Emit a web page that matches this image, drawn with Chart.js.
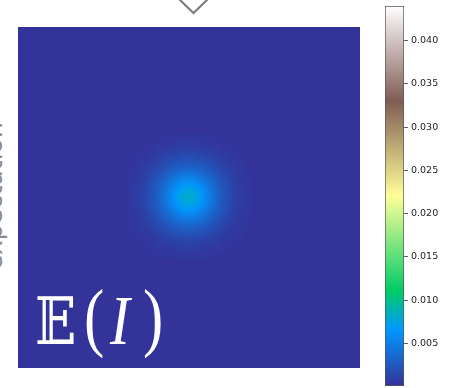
<!DOCTYPE html>
<html>
<head>
<meta charset="utf-8">
<script src="https://cdn.jsdelivr.net/npm/chart.js@4.4.0/dist/chart.umd.min.js"></script>
<style>
  html, body { margin: 0; padding: 0; background: #fff; }
  body { position: relative; width: 459px; height: 388px; overflow: hidden; }
  #heatwrap {
    position: absolute; left: 18px; top: 27px; width: 342px; height: 341px;
    overflow: hidden; background: rgb(51, 51, 153);
  }
  #heat { display: block; filter: blur(2px); }
  #cbar { position: absolute; left: 370px; top: 0; }
  #marker { position: absolute; left: 0; top: 0; }
  #ylab {
    position: absolute; left: -19.5px; top: 270px;
    transform-origin: 0 0; transform: rotate(-90deg);
    font: 25px/25px "DejaVu Sans", sans-serif; color: #8a8a8a; white-space: nowrap;
  }
  .lab { position: absolute; color: #fff; white-space: nowrap; transform-origin: 0 0; }
  #eb { left: 35px; top: 289px; font: 66px/66px "DejaVu Serif", "DejaVu Sans", serif; transform: scaleX(0.82); }
  .par { top: 278px; font: 76px/76px "Liberation Serif", serif; }
  #lp { left: 84px; transform: scaleX(0.8); }
  #ii { left: 110px; top: 286px; font: italic 70px/70px "Liberation Serif", serif; transform: scaleX(0.85); }
  #rp { left: 143px; transform: scaleX(0.8); }
</style>
</head>
<body>
<svg id="marker" width="459" height="40">
  <polyline points="178,-2 193.5,13 209,-2" fill="none" stroke="#7a7a7a" stroke-width="2"/>
</svg>
<div id="ylab">expectation</div>
<div id="heatwrap"><canvas id="heat" width="342" height="341"></canvas></div>
<canvas id="cbar" width="89" height="388"></canvas>
<span class="lab" id="eb">𝔼</span><span class="lab par" id="lp">(</span><span class="lab" id="ii">I</span><span class="lab par" id="rp">)</span>
<script>
// colour range of the shared colorbar
const vMin = 0.00007;
const vMax = 0.0440;
const cbarTicks = [0.005, 0.010, 0.015, 0.020, 0.025, 0.030, 0.035, 0.040];

// image grid (cells per side) and the flat background level
const gridSize = 57;
const bgValue = 0.0001;

// bright spot in the middle, units of 1e-4
const blobOrigin = 18;
const blobE4 = [
  [1, 1, 1, 1, 1, 2, 2, 3, 3, 3, 3, 3, 3, 3, 2, 2, 1, 1, 1, 1, 1],
  [1, 1, 1, 2, 2, 3, 3, 4, 5, 6, 6, 6, 5, 4, 3, 3, 2, 2, 1, 1, 1],
  [1, 1, 2, 2, 3, 5, 6, 7, 8, 9, 9, 9, 8, 7, 6, 5, 3, 2, 2, 1, 1],
  [1, 2, 2, 3, 5, 7, 9, 11, 13, 15, 15, 15, 13, 11, 9, 7, 5, 3, 2, 2, 1],
  [1, 2, 3, 5, 7, 10, 14, 17, 20, 21, 22, 21, 20, 17, 14, 10, 7, 5, 3, 2, 1],
  [2, 3, 5, 7, 10, 15, 19, 24, 27, 30, 31, 30, 27, 24, 19, 15, 10, 7, 5, 3, 2],
  [2, 3, 6, 9, 14, 19, 25, 31, 37, 41, 42, 41, 37, 31, 25, 19, 14, 9, 6, 3, 2],
  [3, 4, 7, 11, 17, 24, 31, 39, 47, 53, 55, 53, 47, 39, 31, 24, 17, 11, 7, 4, 3],
  [3, 5, 8, 13, 20, 27, 37, 47, 57, 65, 68, 65, 57, 47, 37, 27, 20, 13, 8, 5, 3],
  [3, 6, 9, 15, 21, 30, 41, 53, 65, 74, 79, 74, 65, 53, 41, 30, 21, 15, 9, 6, 3],
  [3, 6, 9, 15, 22, 31, 42, 55, 68, 79, 84, 79, 68, 55, 42, 31, 22, 15, 9, 6, 3],
  [3, 6, 9, 15, 21, 30, 41, 53, 65, 74, 79, 74, 65, 53, 41, 30, 21, 15, 9, 6, 3],
  [3, 5, 8, 13, 20, 27, 37, 47, 57, 65, 68, 65, 57, 47, 37, 27, 20, 13, 8, 5, 3],
  [3, 4, 7, 11, 17, 24, 31, 39, 47, 53, 55, 53, 47, 39, 31, 24, 17, 11, 7, 4, 3],
  [2, 3, 6, 9, 14, 19, 25, 31, 37, 41, 42, 41, 37, 31, 25, 19, 14, 9, 6, 3, 2],
  [2, 3, 5, 7, 10, 15, 19, 24, 27, 30, 31, 30, 27, 24, 19, 15, 10, 7, 5, 3, 2],
  [1, 2, 3, 5, 7, 10, 14, 17, 20, 21, 22, 21, 20, 17, 14, 10, 7, 5, 3, 2, 1],
  [1, 2, 2, 3, 5, 7, 9, 11, 13, 15, 15, 15, 13, 11, 9, 7, 5, 3, 2, 2, 1],
  [1, 1, 2, 2, 3, 5, 6, 7, 8, 9, 9, 9, 8, 7, 6, 5, 3, 2, 2, 1, 1],
  [1, 1, 1, 2, 2, 3, 3, 4, 5, 6, 6, 6, 5, 4, 3, 3, 2, 2, 1, 1, 1],
  [1, 1, 1, 1, 1, 2, 2, 3, 3, 3, 3, 3, 3, 3, 2, 2, 1, 1, 1, 1, 1],
];

// matplotlib "terrain" colormap
const terrainStops = [
  [0.00, [51, 51, 153]],
  [0.15, [0, 153, 255]],
  [0.25, [0, 204, 102]],
  [0.50, [255, 255, 153]],
  [0.75, [128, 92, 84]],
  [1.00, [255, 255, 255]],
];

function terrain(v) {
  const t = Math.min(1, Math.max(0, (v - vMin) / (vMax - vMin)));
  for (let i = 1; i < terrainStops.length; i++) {
    const [t1, c1] = terrainStops[i];
    const [t0, c0] = terrainStops[i - 1];
    if (t <= t1) {
      const f = (t - t0) / (t1 - t0);
      const c = c0.map((a, k) => Math.round(a + (c1[k] - a) * f));
      return `rgb(${c[0]},${c[1]},${c[2]})`;
    }
  }
  return "rgb(255,255,255)";
}

const cells = [];
for (let r = 0; r < gridSize; r++) {
  for (let c = 0; c < gridSize; c++) {
    const br = r - blobOrigin;
    const bc = c - blobOrigin;
    let v = bgValue;
    if (br >= 0 && br < blobE4.length && bc >= 0 && bc < blobE4.length) {
      v = blobE4[br][bc] / 1e4;
    }
    cells.push({ x: c + 0.5, y: r + 0.5, v });
  }
}

new Chart(document.getElementById("heat"), {
  type: "scatter",
  data: {
    datasets: [
      {
        data: cells,
        pointStyle: "rect",
        pointBorderWidth: 0,
        pointRadius: (ctx) => {
          const s = ctx.chart.scales.x;
          return Math.abs(s.getPixelForValue(1) - s.getPixelForValue(0)) * Math.SQRT1_2 + 0.8;
        },
        pointBackgroundColor: (ctx) => terrain(ctx.raw ? ctx.raw.v : bgValue),
      },
    ],
  },
  options: {
    responsive: false,
    animation: false,
    events: [],
    layout: { padding: 0 },
    plugins: { legend: { display: false }, tooltip: { enabled: false } },
    scales: {
      x: { type: "linear", min: 0, max: gridSize, display: false },
      y: { type: "linear", min: 0, max: gridSize, reverse: true, display: false },
    },
  },
});

new Chart(document.getElementById("cbar"), {
  type: "bar",
  data: {
    labels: [""],
    datasets: [
      {
        data: [[vMin, vMax]],
        barPercentage: 1,
        categoryPercentage: 1,
        borderWidth: 1,
        borderColor: "#555",
        borderSkipped: false,
        backgroundColor: (ctx) => {
          const area = ctx.chart.chartArea;
          if (!area) return null;
          const g = ctx.chart.ctx.createLinearGradient(0, area.bottom, 0, area.top);
          terrainStops.forEach(([t, c]) => g.addColorStop(t, `rgb(${c[0]},${c[1]},${c[2]})`));
          return g;
        },
      },
    ],
  },
  options: {
    responsive: false,
    animation: false,
    events: [],
    layout: { padding: { left: 15, top: 6, bottom: 2, right: 0 } },
    plugins: { legend: { display: false }, tooltip: { enabled: false } },
    scales: {
      x: { display: false },
      y: {
        position: "right",
        min: vMin,
        max: vMax,
        afterBuildTicks: (s) => {
          s.ticks = cbarTicks.map((v) => ({ value: v }));
        },
        afterFit: (s) => {
          s.width = 55;
          s.paddingTop = 0;
          s.paddingBottom = 0;
        },
        ticks: {
          callback: (v) => Number(v).toFixed(3),
          font: { family: "DejaVu Sans", size: 9.5 },
          color: "#222",
          padding: 3,
        },
        grid: { drawOnChartArea: false, tickLength: 4, color: "#333", lineWidth: 0.8 },
        border: { display: false },
      },
    },
  },
});
</script>
</body>
</html>
